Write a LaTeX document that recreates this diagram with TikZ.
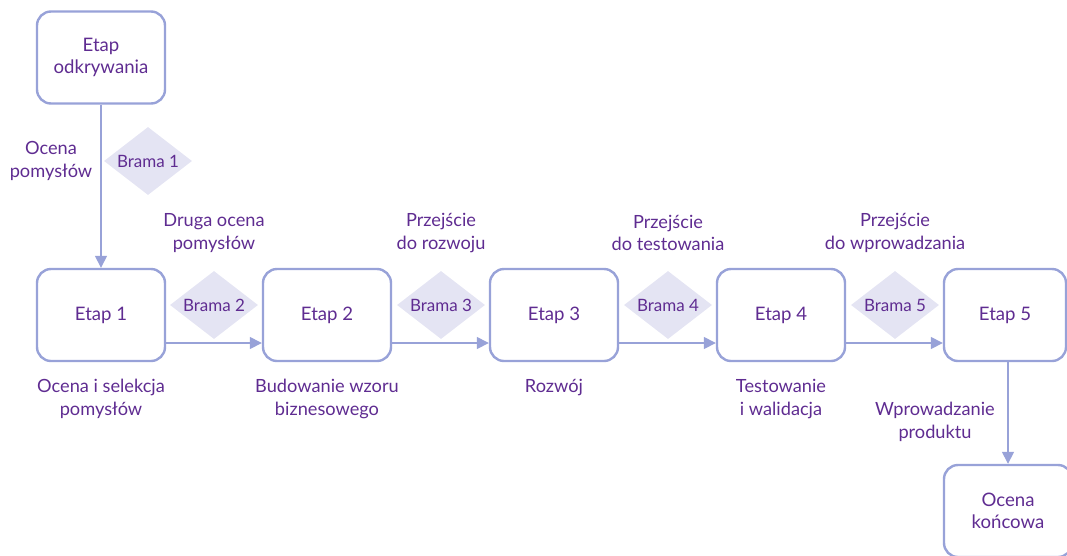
\documentclass[tikz,border=0pt]{standalone}
\usepackage{fontspec}
\setmainfont{Lato}
\usetikzlibrary{shapes.geometric,arrows.meta}
\definecolor{boxc}{HTML}{98A2D8}
\definecolor{txt}{HTML}{5F2C91}
\definecolor{gate}{HTML}{E4E4F3}
\begin{document}
\begin{tikzpicture}[x=1pt,y=-1pt,
  stage/.style={rectangle,rounded corners=14pt,draw=boxc,line width=2.4pt,
    minimum width=128pt,minimum height=92pt,text=txt,align=center,
    font=\fontsize{18.6}{22.5}\selectfont},
  gatebox/.style={diamond,fill=gate,minimum width=88pt,minimum height=68pt,
    inner sep=0pt,label={[text=txt,font=\fontsize{17}{20}\selectfont]center:#1}},
  lbl/.style={text=txt,align=center,font=\fontsize{18.2}{22.5}\selectfont},
  flow/.style={draw=boxc,line width=1.5pt,-{Triangle[length=12pt,width=12pt]}}]
\useasboundingbox (0,0) rectangle (1067,555);

% stages
\node[stage] (odk) at (101,57.5) {Etap\\odkrywania};
\node[stage] (e1) at (101,315) {Etap 1};
\node[stage] (e2) at (327,315) {Etap 2};
\node[stage] (e3) at (554,315) {Etap 3};
\node[stage] (e4) at (781,315) {Etap 4};
\node[stage,minimum width=122pt] (e5) at (1005,315) {Etap 5};
\node[stage] (ok) at (1008,511) {Ocena\\końcowa};

% gates
\node[gatebox={Brama 1}] (b1) at (148,161) {};
\node[gatebox={Brama 2}] (b2) at (214,305) {};
\node[gatebox={Brama 3}] (b3) at (441,305) {};
\node[gatebox={Brama 4}] (b4) at (668,305) {};
\node[gatebox={Brama 5}] (b5) at (895,305) {};

% connectors
\draw[flow] (odk.south) -- (e1.north);
\draw[flow] ([yshift=-28pt]e1.east) -- ([yshift=-28pt]e2.west);
\draw[flow] ([yshift=-28pt]e2.east) -- ([yshift=-28pt]e3.west);
\draw[flow] ([yshift=-28pt]e3.east) -- ([yshift=-28pt]e4.west);
\draw[flow] ([yshift=-28pt]e4.east) -- ([yshift=-28pt]e5.west);
\draw[flow] (e5.south -| ok.north) -- (ok.north);

% labels
\node[lbl] (l0) at (51,161) {Ocena\\pomysłów};
\node[lbl] (l1) at (214,233) {Druga ocena\\pomysłów};
\node[lbl] (l2) at (441,233) {Przejście\\do rozwoju};
\node[lbl] (l3) at (668,233) {Przejście\\do testowania};
\node[lbl] (l4) at (895,233) {Przejście\\do wprowadzania};
\node[lbl] (d1) at (101,399) {Ocena i selekcja\\pomysłów};
\node[lbl] (d2) at (327,399) {Budowanie wzoru\\biznesowego};
\node[lbl] (d3) at (554,388) {Rozwój};
\node[lbl] (d4) at (781,399) {Testowanie\\i walidacja};
\node[lbl] (d5) at (935,422) {Wprowadzanie\\produktu};
\end{tikzpicture}
\end{document}
